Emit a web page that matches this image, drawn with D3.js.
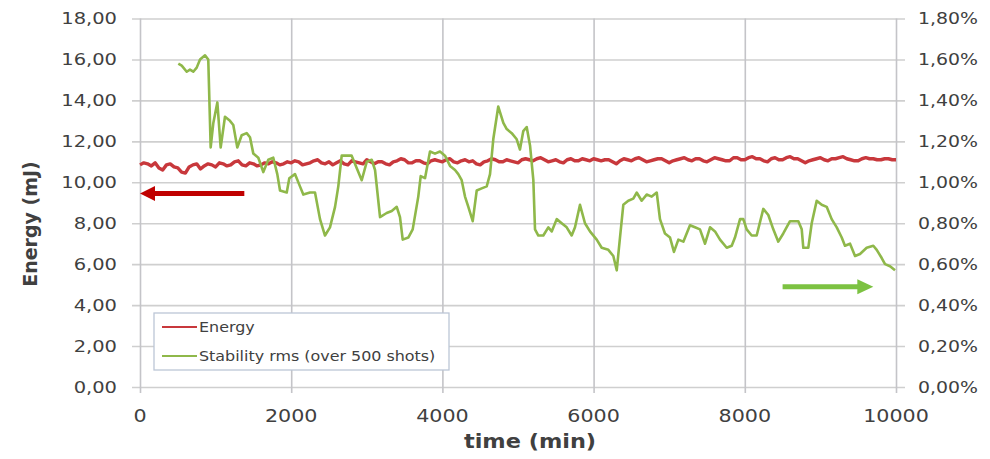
<!DOCTYPE html>
<html>
<head>
<meta charset="utf-8">
<script src="https://cdn.jsdelivr.net/npm/d3@7"></script>
<style>
  body { margin: 0; background: #fff; }
  text { font-family: "DejaVu Sans", sans-serif; fill: #404040; }
</style>
</head>
<body>
<script>
var w = 990;
var h = 459;
var sx = 1.18; // the picture is a bit stretched sideways

// energy (mJ), one reading every 50 min from 0 to 10000
var energyStep = 50;
var energy = [
  10.85, 10.95, 10.90, 10.80, 10.95, 10.70, 10.60, 10.85, 10.90, 10.75, 10.70, 10.50, 10.45, 10.75, 10.85, 10.90, 10.65, 10.80, 10.90, 10.85,
  10.75, 10.95, 10.90, 10.80, 10.85, 11.00, 11.05, 10.85, 10.80, 10.95, 10.90, 10.80, 10.85, 10.95, 10.90, 11.00, 10.95, 10.85, 10.90, 11.00,
  10.95, 11.05, 11.00, 10.85, 10.90, 10.95, 11.05, 11.10, 10.95, 10.90, 11.00, 10.85, 10.95, 11.05, 10.90, 10.85, 11.05, 11.00, 10.95, 10.90,
  11.10, 11.00, 10.90, 11.00, 11.00, 10.90, 10.85, 11.00, 11.05, 11.15, 11.10, 10.95, 10.95, 11.05, 11.05, 10.95, 10.90, 11.05, 11.10, 11.05,
  11.00, 11.10, 11.15, 11.00, 10.95, 11.05, 11.10, 11.00, 11.05, 10.90, 10.85, 11.00, 11.05, 11.15, 11.10, 11.00, 11.00, 11.10, 11.05, 11.00,
  10.95, 11.10, 11.15, 11.10, 11.05, 11.15, 11.20, 11.10, 11.00, 11.05, 11.10, 11.00, 10.95, 11.10, 11.15, 11.05, 11.05, 11.15, 11.10, 11.05,
  11.15, 11.10, 11.05, 11.10, 11.10, 11.00, 10.90, 11.05, 11.15, 11.10, 11.05, 11.15, 11.20, 11.10, 11.00, 11.05, 11.10, 11.15, 11.15, 11.05,
  10.95, 11.05, 11.10, 11.15, 11.20, 11.10, 11.05, 11.15, 11.15, 11.05, 11.00, 11.10, 11.20, 11.15, 11.10, 11.05, 11.05, 11.20, 11.20, 11.10,
  11.10, 11.20, 11.25, 11.15, 11.15, 11.05, 11.00, 11.15, 11.20, 11.10, 11.10, 11.20, 11.25, 11.15, 11.15, 11.05, 10.95, 11.05, 11.10, 11.15,
  11.20, 11.10, 11.05, 11.15, 11.15, 11.20, 11.25, 11.15, 11.10, 11.05, 11.05, 11.15, 11.20, 11.15, 11.15, 11.10, 11.10, 11.15, 11.15, 11.10,
  11.10
];

// stability rms over 500 shots (%), time in min
var stabTime = [
  507, 552, 618, 661, 705, 750, 794, 860, 903, 935, 970, 1023, 1067, 1124, 1190, 1234,
  1287, 1345, 1411, 1455, 1499, 1565, 1631, 1697, 1763, 1816, 1852, 1941, 1975, 2050,
  2116, 2160, 2249, 2315, 2381, 2447, 2513, 2580, 2623, 2668, 2712, 2755, 2800, 2866,
  2933, 2999, 3065, 3109, 3175, 3263, 3330, 3396, 3439, 3475, 3549, 3607, 3681, 3713,
  3770, 3836, 3902, 3968, 4034, 4101, 4167, 4210, 4255, 4299, 4343, 4401, 4454, 4520,
  4586, 4630, 4673, 4739, 4806, 4851, 4917, 4983, 5026, 5070, 5115, 5159, 5203, 5225,
  5269, 5335, 5401, 5446, 5512, 5578, 5644, 5710, 5754, 5820, 5886, 5952, 6041, 6107,
  6195, 6261, 6306, 6349, 6393, 6459, 6525, 6570, 6636, 6702, 6769, 6835, 6878, 6944,
  7011, 7063, 7121, 7187, 7275, 7341, 7407, 7474, 7540, 7606, 7672, 7761, 7827, 7870,
  7937, 7980, 8025, 8091, 8157, 8245, 8311, 8377, 8443, 8509, 8598, 8708, 8753, 8774,
  8840, 8885, 8951, 9017, 9083, 9149, 9216, 9282, 9325, 9392, 9458, 9524, 9612, 9700,
  9745, 9811, 9855, 9921, 9987
];
var stability = [
  1.58, 1.57, 1.54, 1.55, 1.54, 1.56, 1.60, 1.62, 1.60, 1.17, 1.29, 1.39, 1.17, 1.32, 1.30, 1.28,
  1.17, 1.23, 1.24, 1.22, 1.14, 1.12, 1.05, 1.11, 1.12, 1.04, 0.96, 0.95, 1.02, 1.04,
  0.98, 0.94, 0.95, 0.95, 0.82, 0.74, 0.78, 0.88, 0.98, 1.13, 1.13, 1.13, 1.13, 1.07,
  1.01, 1.10, 1.11, 1.06, 0.83, 0.85, 0.86, 0.88, 0.83, 0.72, 0.73, 0.77, 0.93, 1.03,
  1.02, 1.15, 1.14, 1.15, 1.13, 1.08, 1.06, 1.04, 1.01, 0.93, 0.88, 0.81, 0.96, 0.97,
  0.98, 1.04, 1.21, 1.37, 1.29, 1.26, 1.24, 1.21, 1.16, 1.25, 1.27, 1.18, 1.01, 0.77,
  0.74, 0.74, 0.78, 0.76, 0.82, 0.80, 0.78, 0.74, 0.78, 0.89, 0.80, 0.76, 0.72, 0.68,
  0.67, 0.64, 0.57, 0.73, 0.89, 0.91, 0.92, 0.95, 0.91, 0.94, 0.93, 0.95, 0.82, 0.75,
  0.73, 0.66, 0.72, 0.71, 0.79, 0.78, 0.77, 0.70, 0.78, 0.76, 0.72, 0.68, 0.69, 0.73,
  0.82, 0.82, 0.77, 0.74, 0.74, 0.87, 0.84, 0.77, 0.71, 0.75, 0.81, 0.81, 0.77, 0.68,
  0.68, 0.80, 0.91, 0.89, 0.88, 0.82, 0.78, 0.73, 0.69, 0.70, 0.64, 0.65, 0.68, 0.69,
  0.67, 0.63, 0.60, 0.59, 0.57
];

var xTicks = [0, 2000, 4000, 6000, 8000, 10000];
var yTicks = [0, 2, 4, 6, 8, 10, 12, 14, 16, 18];
var y2Ticks = [0, 0.2, 0.4, 0.6, 0.8, 1.0, 1.2, 1.4, 1.6, 1.8];
var seriesNames = ["Energy", "Stability rms (over 500 shots)"];

var loc = d3.formatLocale({ decimal: ",", thousands: ".", grouping: [3], currency: ["", ""] });
var f2 = loc.format(".2f");

var xScale = d3.scaleLinear().domain([0, 10000]).range([140, 896]);
var yScale = d3.scaleLinear().domain([0, 18]).range([387, 18.5]);
var y2Scale = d3.scaleLinear().domain([0, 1.8]).range([387, 18.5]);

var svg = d3.select("body").append("svg")
  .attr("width", w)
  .attr("height", h);

//grid lines
var hGrid = svg.append("g")
  .attr("transform", "translate(132,0)")
  .call(d3.axisRight(yScale).tickValues(yTicks).tickSize(773).tickFormat(""));
hGrid.select(".domain").remove();
hGrid.selectAll("line").attr("stroke", "#cfcfcf").attr("stroke-width", 1.6);

var vGrid = svg.append("g")
  .attr("transform", "translate(0,393)")
  .call(d3.axisBottom(xScale).tickValues(xTicks).tickSize(-(393 - 18.5)).tickFormat(""));
vGrid.select(".domain").remove();
vGrid.selectAll("line").attr("stroke", "#c4c4c8").attr("stroke-width", 1.6);

//axes labels
var yAxis = svg.append("g")
  .attr("transform", "translate(140,0)")
  .call(d3.axisLeft(yScale).tickValues(yTicks).tickSize(0).tickPadding(23).tickFormat(f2));
yAxis.select(".domain").remove();
yAxis.selectAll("text")
  .attr("x", -23 / sx)
  .attr("transform", "scale(" + sx + ",1)")
  .attr("font-size", "16.5px").attr("font-family", "DejaVu Sans").attr("fill", "#404040");

var y2Axis = svg.append("g")
  .attr("transform", "translate(896,0)")
  .call(d3.axisRight(y2Scale).tickValues(y2Ticks).tickSize(0).tickPadding(22)
    .tickFormat(function(d) { return f2(d) + "%"; }));
y2Axis.select(".domain").remove();
y2Axis.selectAll("text")
  .attr("x", 22 / sx)
  .attr("transform", "scale(" + sx + ",1)")
  .attr("font-size", "16px").attr("font-family", "DejaVu Sans").attr("fill", "#404040");

var xAxis = svg.append("g")
  .attr("transform", "translate(0,387)")
  .call(d3.axisBottom(xScale).tickValues(xTicks).tickSize(0).tickPadding(23).tickFormat(d3.format("d")));
xAxis.select(".domain").remove();
xAxis.selectAll("text")
  .attr("transform", "scale(" + sx + ",1)")
  .attr("font-size", "17.5px").attr("font-family", "DejaVu Sans").attr("fill", "#404040");
xAxis.selectAll(".tick").attr("transform", function(d) { return "translate(" + xScale(d) + ",0)"; });
xAxis.selectAll(".tick text").attr("x", 0);

//titles
svg.append("text")
  .attr("transform", "translate(530,448) scale(" + sx + ",1)")
  .attr("text-anchor", "middle")
  .attr("font-size", "19px")
  .attr("font-weight", "bold")
  .attr("fill", "#1a1a1a")
  .text("time (min)");

svg.append("text")
  .attr("transform", "translate(37,224) rotate(-90)")
  .attr("text-anchor", "middle")
  .attr("font-size", "19px")
  .attr("font-weight", "bold")
  .attr("fill", "#1a1a1a")
  .text("Energy (mJ)");

//lines
var energyLine = d3.line()
  .x(function(d, i) { return xScale(i * energyStep); })
  .y(function(d) { return yScale(d); });

svg.append("path")
  .datum(energy)
  .attr("d", energyLine)
  .attr("fill", "none")
  .attr("stroke", "#c8383c")
  .attr("stroke-width", 3.4)
  .attr("stroke-linejoin", "round");

var stabLine = d3.line()
  .x(function(d, i) { return xScale(stabTime[i]); })
  .y(function(d) { return y2Scale(d); });

svg.append("path")
  .datum(stability)
  .attr("d", stabLine)
  .attr("fill", "none")
  .attr("stroke", "#8fb84a")
  .attr("stroke-width", 2.6)
  .attr("stroke-linejoin", "round");

//arrows
function arrow(x1, x2, yv, col, sw, hl, hw) {
  var dir = x2 > x1 ? 1 : -1;
  svg.append("line")
    .attr("x1", x1).attr("x2", x2 - dir * hl + dir)
    .attr("y1", yv).attr("y2", yv)
    .attr("stroke", col).attr("stroke-width", sw);
  svg.append("path")
    .attr("d", "M" + x2 + "," + yv + "L" + (x2 - dir * hl) + "," + (yv - hw) + "L" + (x2 - dir * hl) + "," + (yv + hw) + "Z")
    .attr("fill", col);
}
arrow(xScale(1380), xScale(0), yScale(9.45), "#c00000", 5, 15, 7.5);
arrow(xScale(8500), xScale(9700), y2Scale(0.49), "#7cc242", 5, 16, 7.5);

//legend
var legend = svg.append("g");
legend.append("rect")
  .attr("x", 154).attr("y", 313)
  .attr("width", 295).attr("height", 57)
  .attr("fill", "#fff")
  .attr("stroke", "#bcc6d6")
  .attr("stroke-width", 1.3);

var legendColors = ["#c8383c", "#8fb84a"];
legend.selectAll(".item")
  .data(seriesNames)
  .enter()
  .append("g")
  .attr("transform", function(d, i) { return "translate(162," + (327 + i * 29) + ")"; })
  .each(function(d, i) {
    var g = d3.select(this);
    g.append("line")
      .attr("x1", 0).attr("x2", 35)
      .attr("stroke", legendColors[i])
      .attr("stroke-width", 2);
    g.append("text")
      .attr("transform", "translate(37,0) scale(" + sx + ",1)")
      .attr("dy", "0.35em")
      .attr("font-size", "13.5px")
      .attr("fill", "#333")
      .text(d);
  });
</script>
</body>
</html>
